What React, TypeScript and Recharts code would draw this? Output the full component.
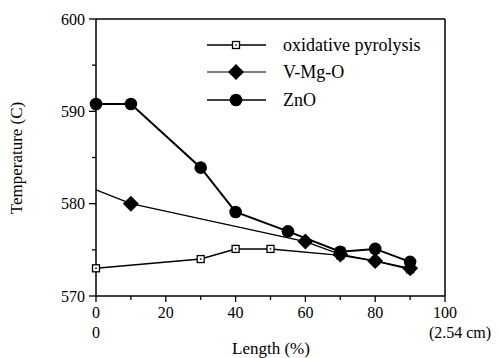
import React from 'react';
import { LineChart, Line, XAxis, YAxis, ReferenceLine } from 'recharts';

// readings
const oxLength = [0, 30, 40, 50, 70, 80, 90];
const oxTemp = [573, 574, 575.1, 575.1, 574.4, 573.8, 572.9];
const vmgLength = [0, 10, 60, 70, 80, 90];
const vmgTemp = [581.5, 580, 575.9, 574.5, 573.8, 573];
const znoLength = [0, 10, 30, 40, 55, 70, 80, 90];
const znoTemp = [590.8, 590.8, 583.9, 579.1, 577, 574.8, 575.1, 573.7];

const xTicks = [0, 10, 20, 30, 40, 50, 60, 70, 80, 90, 100];
const xLabels = [0, 20, 40, 60, 80, 100];
const yTicks = [570, 575, 580, 585, 590, 595, 600];
const yLabels = [570, 580, 590, 600];

const seriesNames = ['oxidative pyrolysis', 'V-Mg-O', 'ZnO'];

const toPoints = (xs: number[], ys: number[]) => xs.map((x, i) => ({ x, y: ys[i] }));
const oxData = toPoints(oxLength, oxTemp);
const vmgData = toPoints(vmgLength, vmgTemp);
const znoData = toPoints(znoLength, znoTemp);

const FONT = '"Liberation Serif", "Times New Roman", serif';
const TICK = 6;

const Square = ({ cx, cy }: any) => (
    <g>
        <rect x={cx - 3.5} y={cy - 3.5} width={7} height={7} fill="#fff" stroke="#000" strokeWidth={1.3} />
        <rect x={cx - 0.75} y={cy - 0.75} width={1.5} height={1.5} fill="#000" />
    </g>
);

const Diamond = ({ cx, cy }: any) => (
    <polygon points={`${cx - 8},${cy} ${cx},${cy - 8} ${cx + 8},${cy} ${cx},${cy + 8}`} fill="#000" />
);

const Dot = ({ cx, cy }: any) => <circle cx={cx} cy={cy} r={6.3} fill="#000" />;

const XTick = ({ x, y, payload }: any) => {
    const axisY = y - TICK;
    const v = payload.value;
    const major = xLabels.includes(v);
    return (
        <g>
            <line x1={x} x2={x} y1={axisY} y2={axisY + (major ? 6 : 4)} stroke="#000" strokeWidth={1.3} />
            {major && (
                <text x={x} y={axisY + 22} textAnchor="middle" fontSize={16} fontFamily={FONT} fill="#000">{v}</text>
            )}
            {v === 0 && (
                <text x={x} y={axisY + 42} textAnchor="middle" fontSize={16} fontFamily={FONT} fill="#000">0</text>
            )}
            {v === 100 && (
                <text x={x + 15} y={axisY + 42} textAnchor="middle" fontSize={16} fontFamily={FONT} fill="#000">(2.54 cm)</text>
            )}
        </g>
    );
};

const YTick = ({ x, y, payload }: any) => {
    const axisX = x + TICK;
    const v = payload.value;
    const major = yLabels.includes(v);
    return (
        <g>
            <line x1={axisX} x2={axisX - (major ? 7 : 4)} y1={y} y2={y} stroke="#000" strokeWidth={1.3} />
            {major && (
                <text x={axisX - 11} y={y + 5.5} textAnchor="end" fontSize={16} fontFamily={FONT} fill="#000">{v}</text>
            )}
        </g>
    );
};

const markers = [
    (cx: number, cy: number) => <Square cx={cx} cy={cy} />,
    (cx: number, cy: number) => <Diamond cx={cx} cy={cy} />,
    (cx: number, cy: number) => <Dot cx={cx} cy={cy} />,
];

const LegendBox = () => (
    <div style={{ position: 'absolute', left: 207, top: 31, fontFamily: FONT, fontSize: 18, color: '#000' }}>
        {seriesNames.map((name, i) => (
            <div key={name} style={{ display: 'flex', alignItems: 'center', height: 27.5 }}>
                <svg width={76} height={20} style={{ display: 'block' }}>
                    <line x1={0} x2={59} y1={10} y2={10} stroke="#000" strokeWidth={i === 1 ? 1.2 : 1.6} />
                    {markers[i](29, 10)}
                </svg>
                <span style={{ lineHeight: '20px', whiteSpace: 'nowrap' }}>{name}</span>
            </div>
        ))}
    </div>
);

const App: React.FC = () => {
    return (
        <div style={{ position: 'absolute', left: 0, top: 0, width: 500, height: 358, background: '#fff' }}>
            <LineChart width={500} height={358} margin={{ top: 19, right: 55, left: 0, bottom: 0 }}>
                <XAxis
                    type="number"
                    dataKey="x"
                    domain={[0, 100]}
                    ticks={xTicks}
                    interval={0}
                    height={62}
                    tickSize={TICK}
                    tickMargin={0}
                    tickLine={false}
                    tick={<XTick />}
                    axisLine={{ stroke: '#000', strokeWidth: 1.5 }}
                    label={{
                        content: () => (
                            <text x={271} y={354} textAnchor="middle" fontSize={17} fontFamily={FONT} fill="#000">Length (%)</text>
                        ),
                    }}
                />
                <YAxis
                    type="number"
                    domain={[570, 600]}
                    ticks={yTicks}
                    interval={0}
                    width={96}
                    tickSize={TICK}
                    tickMargin={0}
                    tickLine={false}
                    tick={<YTick />}
                    axisLine={{ stroke: '#000', strokeWidth: 1.5 }}
                    label={{
                        content: () => (
                            <text x={22} y={158} transform="rotate(-90, 22, 158)" textAnchor="middle" fontSize={17} fontFamily={FONT} fill="#000">Temperature (C)</text>
                        ),
                    }}
                />
                <ReferenceLine y={600} stroke="#000" strokeWidth={1.5} />
                <ReferenceLine x={100} stroke="#000" strokeWidth={1.5} />
                <Line
                    data={oxData}
                    dataKey="y"
                    name={seriesNames[0]}
                    stroke="#000"
                    strokeWidth={1.5}
                    dot={(p: any) => <Square key={`ox-${p.index}`} cx={p.cx} cy={p.cy} />}
                    activeDot={false}
                    isAnimationActive={false}
                />
                <Line
                    data={vmgData}
                    dataKey="y"
                    name={seriesNames[1]}
                    stroke="#000"
                    strokeWidth={1.3}
                    dot={(p: any) => p.index === 0 ? <g key="vmg-0" /> : <Diamond key={`vmg-${p.index}`} cx={p.cx} cy={p.cy} />}
                    activeDot={false}
                    isAnimationActive={false}
                />
                <Line
                    data={znoData}
                    dataKey="y"
                    name={seriesNames[2]}
                    stroke="#000"
                    strokeWidth={2}
                    dot={(p: any) => <Dot key={`zno-${p.index}`} cx={p.cx} cy={p.cy} />}
                    activeDot={false}
                    isAnimationActive={false}
                />
            </LineChart>
            <LegendBox />
        </div>
    );
};

export default App;
